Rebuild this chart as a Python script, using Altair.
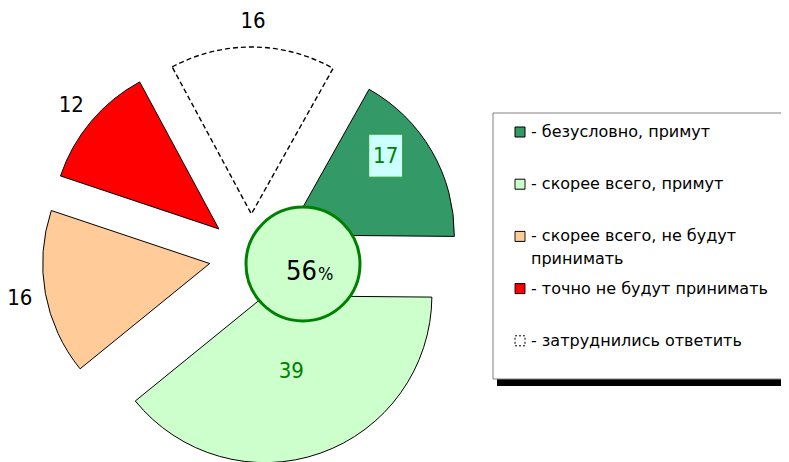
import math
import altair as alt
import pandas as pd

# ---- data ----
categories = [
    "безусловно, примут",
    "скорее всего, примут",
    "скорее всего, не будут принимать",
    "точно не будут принимать",
    "затруднились ответить",
]
values = [17, 39, 16, 12, 16]
colors = ["#339966", "#CCFFCC", "#FFCC99", "#FF0000", "#FFFFFF"]
legend_text = [
    "- безусловно, примут",
    "- скорее всего, примут",
    "- скорее всего, не будут\nпринимать",
    "- точно не будут принимать",
    "- затруднились ответить",
]
center_value = ["56"]

df = pd.DataFrame({"order": list(range(len(values))), "category": categories,
                   "value": values, "legend": legend_text})

FONT = "DejaVu Sans Condensed, DejaVu Sans, sans-serif"
LFONT = "DejaVu Sans, sans-serif"
CX, CY = 243, 248          # pie centre (chart px)
R = 167                    # pie radius
EXPLODE = 42               # explode distance
START = math.radians(29.3) # start angle of the first slice

color_scale = alt.Scale(domain=categories, range=colors)

base = (
    alt.Chart(df)
    .transform_joinaggregate(total="sum(value)")
    .transform_window(cum="sum(value)", sort=[alt.SortField("order")], frame=[None, 0])
    .transform_calculate(t0=f"{START} + 2*PI*(datum.cum - datum.value)/datum.total")
    .transform_calculate(t1=f"{START} + 2*PI*datum.cum/datum.total")
    .transform_calculate(mid="(datum.t0 + datum.t1)/2")
    .transform_calculate(px=f"{CX} + {EXPLODE}*sin(datum.mid)")
    .transform_calculate(py=f"{CY} - {EXPLODE}*cos(datum.mid)")
)

X = alt.X("px:Q", scale=None, axis=None)
Y = alt.Y("py:Q", scale=None, axis=None)

slices = base.transform_filter("datum.order < 4").mark_arc(
    radius=R, stroke="black", strokeWidth=1
).encode(
    theta=alt.Theta("t0:Q", scale=None), theta2=alt.Theta2("t1"),
    fill=alt.Fill("category:N", scale=color_scale, legend=None),
    x=X, y=Y,
)

white = base.transform_filter("datum.order == 4").mark_arc(
    radius=R, fill="white", stroke="black", strokeWidth=1.4, strokeDash=[5, 3]
).encode(
    theta=alt.Theta("t0:Q", scale=None), theta2=alt.Theta2("t1"), x=X, y=Y,
)

# outside labels
out_labels = base.transform_filter("datum.order >= 2").transform_calculate(
    lx="datum.px + 193*sin(datum.mid)"
).transform_calculate(
    ly="datum.py - 193*cos(datum.mid)"
).mark_text(fontSize=22, font=FONT, color="black", align="center", baseline="middle").encode(
    x=alt.X("lx:Q", scale=None, axis=None), y=alt.Y("ly:Q", scale=None, axis=None),
    text="value:Q",
)

lab39 = base.transform_filter("datum.order == 1").transform_calculate(
    lx="datum.px + 80*sin(datum.mid)"
).transform_calculate(
    ly="datum.py - 80*cos(datum.mid)"
).mark_text(fontSize=22, font=FONT, color="#008000", align="center", baseline="middle").encode(
    x=alt.X("lx:Q", scale=None, axis=None), y=alt.Y("ly:Q", scale=None, axis=None),
    text="value:Q",
)

b17 = base.transform_filter("datum.order == 0").transform_calculate(
    lx="datum.px + 126*sin(datum.mid - 0.15)"
).transform_calculate(
    ly="datum.py - 126*cos(datum.mid - 0.15)"
).transform_calculate(
    bx0="datum.lx - 17", bx1="datum.lx + 17", by0="datum.ly - 22", by1="datum.ly + 21"
)
box17 = b17.mark_rect(fill="#CCFFFF", stroke="#339933", strokeWidth=1).encode(
    x=alt.X("bx0:Q", scale=None, axis=None), x2="bx1:Q",
    y=alt.Y("by0:Q", scale=None, axis=None), y2="by1:Q",
)
lab17 = b17.mark_text(fontSize=22, font=FONT, color="#008000", align="center", baseline="middle").encode(
    x=alt.X("lx:Q", scale=None, axis=None), y=alt.Y("ly:Q", scale=None, axis=None),
    text="value:Q",
)

# centre circle
cdf = pd.DataFrame({"t": center_value})
circle = alt.Chart(cdf).mark_arc(
    radius=57, theta=0, theta2=2 * math.pi, fill="#CCFFCC", stroke="#008000", strokeWidth=3
).encode(x=alt.value(CX + 52), y=alt.value(CY + 8))
ctext = alt.Chart(cdf).mark_text(fontSize=27, font=FONT, color="black", align="right",
                                 baseline="alphabetic").encode(
    x=alt.value(CX + 66), y=alt.value(CY + 24), text="t:N")
cpct = alt.Chart(cdf).mark_text(fontSize=18, font=FONT, color="black", align="left",
                                baseline="alphabetic", text="%").encode(
    x=alt.value(CX + 67), y=alt.value(CY + 24))

# legend
shadow = alt.Chart(cdf).mark_rect(fill="black").encode(
    x=alt.value(489), x2=alt.value(800), y=alt.value(111), y2=alt.value(378))
lbox = alt.Chart(cdf).mark_rect(fill="white", stroke="#808080", strokeWidth=1).encode(
    x=alt.value(485), x2=alt.value(800), y=alt.value(105), y2=alt.value(371))

leg = alt.Chart(df).transform_calculate(ly="124 + 52.2*datum.order")
LY = alt.Y("ly:Q", scale=None, axis=None)
squares = leg.mark_square(size=100, stroke="black", strokeWidth=1, opacity=1).encode(
    x=alt.value(512), y=LY,
    fill=alt.Fill("category:N", scale=color_scale, legend=None),
    strokeDash=alt.condition("datum.order == 4", alt.value([2, 2]), alt.value([1, 0])),
)
ltext = leg.mark_text(align="left", baseline="middle", fontSize=16, font=LFONT, color="black",
                      lineBreak="\n", lineHeight=23).encode(
    x=alt.value(523), y=LY, text="legend:N")

chart = alt.layer(
    slices, white, circle, ctext, cpct, out_labels, lab39, box17, lab17,
    shadow, lbox, squares, ltext,
).properties(
    width=773, height=454, padding=0, autosize=alt.AutoSizeParams(type="none")
).configure_view(stroke=None)

chart.save("out.html", embed_options={"renderer": "svg", "actions": False})
